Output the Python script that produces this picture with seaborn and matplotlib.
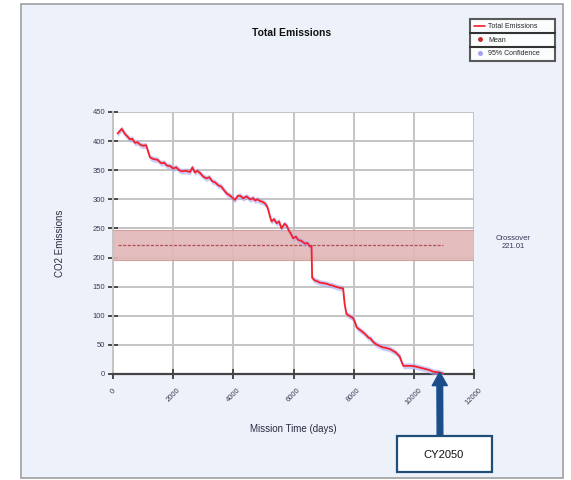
import matplotlib
matplotlib.use("Agg")
import matplotlib.pyplot as plt
import matplotlib.patches as mpatches
from matplotlib.lines import Line2D
import seaborn as sns
import pandas as pd
import numpy as np

# ---- data ----
days = [150, 290, 400, 480, 560, 640, 730, 820, 900, 1000, 1100, 1230, 1350, 1480,
        1600, 1700, 1790, 1900, 2000, 2100, 2200, 2300, 2420, 2560, 2640, 2720, 2800,
        2900, 3000, 3110, 3200, 3300, 3400, 3500, 3600, 3700, 3780, 3900, 4050, 4150,
        4230, 4330, 4440, 4560, 4660, 4720, 4800, 4890, 4960, 5050, 5120, 5160, 5220,
        5270, 5350, 5440, 5520, 5600, 5700, 5770, 5850, 5920, 5990, 6080, 6160, 6250,
        6380, 6460, 6550, 6600, 6620, 6700, 6800, 6880, 7000, 7100, 7210, 7300, 7400,
        7540, 7650, 7700, 7760, 7850, 7980, 8050, 8100, 8200, 8280, 8350, 8430, 8500,
        8560, 8650, 8750, 8870, 8950, 9050, 9200, 9300, 9400, 9530, 9600, 9650, 9750,
        9900, 10050, 10200, 10350, 10500, 10640, 10800, 10970]
emissions = [413, 421, 412, 408, 403, 404, 397, 398, 394, 392, 393, 372, 369, 368,
             362, 363, 358, 357, 353, 355, 350, 348, 349, 347, 355, 346, 349,
             345, 339, 336, 338, 331, 329, 324, 322, 315, 310, 306, 299, 306,
             306, 302, 305, 300, 302, 298, 300, 297, 296, 293, 288, 282, 270,
             262, 266, 259, 262, 250, 258, 255, 246, 240, 233, 236, 230, 229,
             224, 225, 219, 220, 165, 161, 159, 157, 156, 155, 153, 152, 150,
             148, 147, 120, 103, 100, 96, 88, 80, 76, 73, 70, 66, 62,
             61, 55, 51, 48, 46, 45, 43, 40, 37, 30, 20, 14, 14,
             14, 13, 11, 9, 7, 4, 3, 1]
ci_half = 5.0
crossover_mean = 221.01
crossover_low = 195
crossover_high = 248

x_ticks = [0, 2000, 4000, 6000, 8000, 10000, 12000]
y_ticks = [0, 50, 100, 150, 200, 250, 300, 350, 400, 450]

df = pd.DataFrame({"Mission Time (days)": days, "CO2 Emissions": emissions})

# ---- figure ----
sns.set_style("white")
plt.rcParams['font.family'] = ['Liberation Sans', 'DejaVu Sans']

W, H = 571, 480
fig = plt.figure(figsize=(W / 100, H / 100), dpi=100)
fig.patch.set_facecolor("white")

def fx(px):
    return px / W

def fy(py):
    return 1 - py / H

# outer panel
panel = mpatches.Rectangle((fx(21), fy(478)), fx(563) - fx(21), fy(4) - fy(478),
                           transform=fig.transFigure, facecolor="#edf2fa",
                           edgecolor="#a0a0a0", lw=1.2, zorder=-5)
fig.patches.append(panel)

ax = fig.add_axes([fx(113), fy(374), fx(474) - fx(113), fy(112) - fy(374)])
ax.set_zorder(1)
ax.set_facecolor("white")

# crossover band and mean
ax.axhspan(crossover_low, crossover_high, color="#e2b7b7", alpha=0.9, lw=0.8,
           ec="#cf9a9a", zorder=1)
ax.plot([days[0], days[-1]], [crossover_mean, crossover_mean], ls=(0, (2.5, 1.2)),
        color="#b84a55", lw=0.9, zorder=2)

# confidence band
e = np.array(emissions, dtype=float)
ax.fill_between(days, e - ci_half, e + ci_half, color="#a8a8f5", alpha=0.6,
                lw=0, zorder=3)

sns.lineplot(data=df, x="Mission Time (days)", y="CO2 Emissions", ax=ax,
             color="#f5202a", lw=1.3, zorder=4)

ax.set_xlim(0, 12000)
ax.set_ylim(0, 450)
ax.set_xticks(x_ticks)
ax.set_yticks(y_ticks)
ax.set_xticklabels([str(t) for t in x_ticks], rotation=45, ha="center",
                   fontsize=5.5, color="#3a3a55")
ax.set_yticklabels([str(t) for t in y_ticks], fontsize=5.5, color="#3a3a55")
ax.grid(True, color="#c4c4c4", lw=1.4)
ax.set_axisbelow(True)
ax.tick_params(axis="both", direction="inout", length=7, width=1.4,
               color="#4a4a4a", bottom=True, left=True)
ax.tick_params(axis="x", pad=6)
ax.tick_params(axis="y", pad=2)
for s in ["top", "right"]:
    ax.spines[s].set_visible(False)
ax.spines["left"].set_color("#c4c4c4")
ax.spines["left"].set_linewidth(1.4)
ax.spines["bottom"].set_color("#444444")
ax.spines["bottom"].set_linewidth(1.6)

ax.set_xlabel("Mission Time (days)", fontsize=7, color="#2a2a40", labelpad=12)
ax.set_ylabel("CO2 Emissions", fontsize=7, color="#2a2a40", labelpad=20)

fig.text(fx(292), fy(33), "Total Emissions", fontsize=7.5, fontweight="bold",
         ha="center", va="center", color="#111111")

fig.text(fx(513), fy(243), "Crossover\n221.01", fontsize=5.5, ha="center",
         va="center", color="#333355", linespacing=1.2)

# legend
handles = [Line2D([0], [0], color="#f5202a", lw=1.2),
           Line2D([0], [0], color="#c0282e", lw=0, marker="o", markersize=2.5),
           Line2D([0], [0], color="#a0a0f0", lw=0, marker="o", markersize=2.5)]
leg = fig.legend(handles, ["Total Emissions", "Mean", "95% Confidence"],
                 loc="upper left",
                 bbox_to_anchor=(fx(470), fy(61), fx(555) - fx(470), fy(19) - fy(61)),
                 mode="expand",
                 fontsize=5, frameon=True, fancybox=False, handlelength=1.6,
                 handletextpad=0.4, borderpad=0.6, labelspacing=0.92,
                 borderaxespad=0, edgecolor="#333333", facecolor="white")
leg.get_frame().set_linewidth(1.5)
for ypix in (33.4, 46.9):
    fig.add_artist(Line2D([fx(470), fx(555)], [fy(ypix), fy(ypix)],
                          transform=fig.transFigure, color="#333333", lw=1.5,
                          zorder=20))

# CY2050 annotation
box = mpatches.Rectangle((fx(397), fy(472)), fx(492) - fx(397), fy(436) - fy(472),
                         transform=fig.transFigure, facecolor="white",
                         edgecolor="#1f4e79", lw=1.6, zorder=10)
fig.patches.append(box)
fig.text(fx(444), fy(455), "CY2050", fontsize=8, ha="center", va="center",
         color="#111111", zorder=11)
ax.annotate("", xy=(10860, 3), xycoords="data",
            xytext=(fx(440), fy(436)), textcoords="figure fraction",
            arrowprops=dict(arrowstyle="simple,head_width=0.9,head_length=0.8,tail_width=0.34",
                            color="#1a4d8a", mutation_scale=12, shrinkA=0, shrinkB=0),
            annotation_clip=False, zorder=12)

fig.savefig("out.png", dpi=100, facecolor=fig.get_facecolor())
